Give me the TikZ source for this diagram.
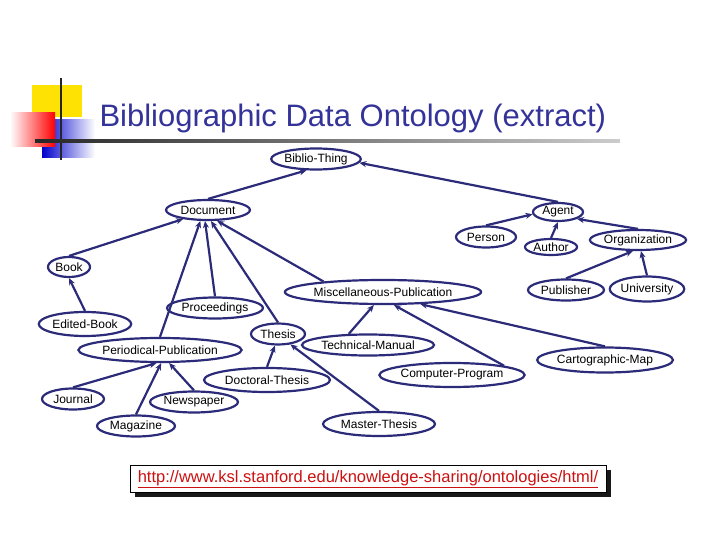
\documentclass[tikz,border=0pt]{standalone}
\usepackage{fontspec}
\setmainfont{Liberation Sans}
\usetikzlibrary{shapes.geometric,arrows.meta}
\definecolor{navy}{HTML}{2B2B7A}
\definecolor{titleblue}{HTML}{333399}
\definecolor{urlred}{HTML}{CC1111}
\begin{document}
\begin{tikzpicture}[x=1pt,y=-1pt,
  cls/.style={ellipse,draw=navy,line width=2.2pt,inner sep=0pt,minimum width=#1,minimum height=21,font=\fontsize{12}{13}\selectfont},
  cls/.default=60,
  isa/.style={draw=navy,line width=2.2pt,-{Stealth[length=7pt,width=6pt]}}]
\useasboundingbox (0,0) rectangle (720,540);
% decoration
\fill[yellow!85!orange] (32,85) rectangle (82,117);
\shade[left color=blue!80!black,right color=white] (42,120) rectangle (95,158);
\shade[left color=white,right color=red] (10,113) rectangle (55,147);
\draw[line width=2.2pt,black!85] (61,78) -- (61,160);
\shade[left color=black!85,right color=black!20] (35,140) rectangle (620,142.5);
\node[anchor=west,text=titleblue,font=\fontsize{31}{34}\selectfont] (title) at (96,118) {Bibliographic Data Ontology (extract)};
% nodes
\node[cls=80] (bt) at (316,159) {Biblio-Thing};
\node[cls=84,minimum height=20] (doc) at (208,210) {Document};
\node[cls=50,minimum height=18] (agent) at (558,212) {Agent};
\node[cls=60] (person) at (486,237) {Person};
\node[cls=52,minimum height=16] (author) at (551,247) {Author};
\node[cls=92,minimum height=20] (org) at (638,240) {Organization};
\node[cls=42,minimum height=20] (book) at (69,267) {Book};
\node[cls=176,minimum height=24] (misc) at (383,292) {Miscellaneous-Publication};
\node[cls=76] (pub) at (566,290) {Publisher};
\node[cls=74,minimum height=25] (univ) at (647,289) {University};
\node[cls=96] (proc) at (215,308) {Proceedings};
\node[cls=84,minimum height=24] (ebook) at (85,324) {Edited-Book};
\node[cls=54] (thesis) at (278,334) {Thesis};
\node[cls=128] (tech) at (368,345) {Technical-Manual};
\node[cls=148,minimum height=24] (per) at (160,350) {Periodical-Publication};
\node[cls=130,minimum height=25] (carto) at (605,360) {Cartographic-Map};
\node[cls=140,minimum height=24] (comp) at (452,375) {Computer-Program};
\node[cls=126,minimum height=24] (doct) at (267,380) {Doctoral-Thesis};
\node[cls=62] (journal) at (73,399) {Journal};
\node[cls=88] (news) at (194,402) {Newspaper};
\node[cls=78] (mag) at (136,426) {Magazine};
\node[cls=112,minimum height=24] (master) at (379,424) {Master-Thesis};
% edges
\draw[isa] (doc.north) -- (bt.-130);
\draw[isa] (agent.north) -- (bt.-5);
\draw[isa] (person.north) -- (agent.-175);
\draw[isa] (author.north) -- (agent.-90);
\draw[isa] (org.north) -- (agent.-20);
\draw[isa] (pub.north) -- (org.-115);
\draw[isa] (univ.north) -- (org.-75);
\draw[isa] (book.north) -- (doc.-160);
\draw[isa] (ebook.north) -- (book.south);
\draw[isa] (per.north) -- (doc.-125);
\draw[isa] (proc.north) -- (doc.-105);
\draw[isa] (thesis.north) -- (doc.-75);
\draw[isa] (misc.170) -- (doc.-50);
\draw[isa] (doct.north) -- (thesis.-105);
\draw[isa] (master.north) -- (thesis.-40);
\draw[isa] (tech.150) -- (misc.-125);
\draw[isa] (comp.north east) -- (misc.-50);
\draw[isa] (carto.north) -- (misc.-18);
\draw[isa] (journal.north) -- (per.-105);
\draw[isa] (mag.north) -- (per.-85);
\draw[isa] (news.north) -- (per.-55);
% url
\fill[black!90] (135,470) rectangle (611,497);
\node[draw=black,fill=white,line width=0.8pt,minimum width=476,minimum height=27,inner sep=0pt,
  text=urlred,font=\fontsize{16.5}{18}\selectfont] (url) at (368,479) {\underline{http://www.ksl.stanford.edu/knowledge-sharing/ontologies/html/}};
\end{tikzpicture}
\end{document}
